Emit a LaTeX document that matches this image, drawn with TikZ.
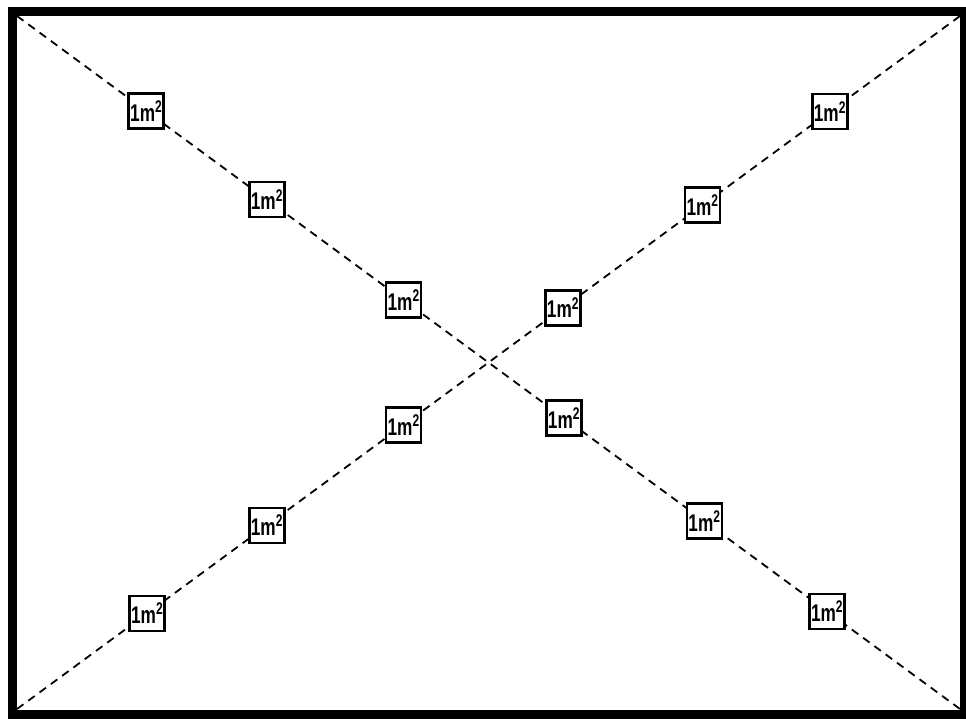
\documentclass[tikz,border=0pt]{standalone}
\usepackage{fontspec}
\setmainfont{Liberation Sans}
\usetikzlibrary{calc}
\tikzset{
  frameline/.style={line width=9pt, black},
  diagline/.style={line width=1.8pt, dash pattern=on 8pt off 6pt, black},
  sqbox/.style={draw=black, fill=white, line width=2.5pt, minimum width=35pt, minimum height=35pt, inner sep=1pt,
     font=\fontsize{21}{21}\selectfont\bfseries}
}
\newcommand{\sqm}{\scalebox{0.82}[1.15]{1m\textsuperscript{2}}}
\begin{document}
\begin{tikzpicture}[x=1pt,y=-1pt]
\useasboundingbox (0,0) rectangle (966,723);
\fill[white] (0,0) rectangle (966,723);
\coordinate (tl) at (17,16);
\coordinate (tr) at (960,16);
\coordinate (br) at (960,709);
\coordinate (bl) at (17,709);
% diagonals
\draw[diagline] (tl) -- (br);
\draw[diagline] (bl) -- (tr);
% frame
\draw[frameline] (12,11) rectangle (964,714);
% boxes on TL-BR diagonal
\node[sqbox] (a1) at ($(tl)!0.137!(br)$) {\sqm};
\node[sqbox] (a2) at ($(tl)!0.265!(br)$) {\sqm};
\node[sqbox] (a3) at ($(tl)!0.41!(br)$) {\sqm};
\node[sqbox] (a4) at ($(tl)!0.58!(br)$) {\sqm};
\node[sqbox] (a5) at ($(tl)!0.729!(br)$) {\sqm};
\node[sqbox] (a6) at ($(tl)!0.859!(br)$) {\sqm};
% boxes on BL-TR diagonal
\node[sqbox] (b1) at ($(bl)!0.138!(tr)$) {\sqm};
\node[sqbox] (b2) at ($(bl)!0.265!(tr)$) {\sqm};
\node[sqbox] (b3) at ($(bl)!0.41!(tr)$) {\sqm};
\node[sqbox] (b4) at ($(bl)!0.579!(tr)$) {\sqm};
\node[sqbox] (b5) at ($(bl)!0.727!(tr)$) {\sqm};
\node[sqbox] (b6) at ($(bl)!0.862!(tr)$) {\sqm};
\end{tikzpicture}
\end{document}
